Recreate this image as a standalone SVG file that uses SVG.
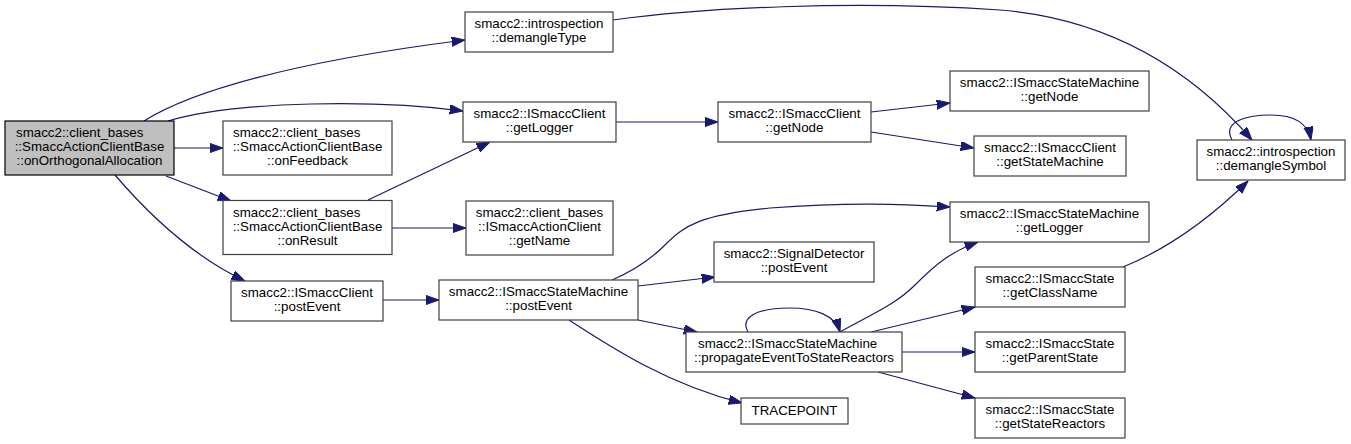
<svg xmlns="http://www.w3.org/2000/svg" width="1351" height="444" viewBox="0 0 1351 444">
<style>
.n rect{fill:#ffffff;stroke:#404040;stroke-width:1.2}
.n.main rect{fill:#bfbfbf;stroke:#000000}
.n text{font-family:"Liberation Sans",Arial,Helvetica,sans-serif;font-size:13.33px;fill:#000000;text-anchor:middle}
.n text.l{text-anchor:start}
.e path{fill:none;stroke:#191970;stroke-width:1.2;marker-end:url(#ah)}
</style>
<defs>
<marker id="ah" markerWidth="14" markerHeight="10" refX="13.3" refY="4.65" orient="auto" markerUnits="userSpaceOnUse">
<path d="M0,0 L13.3,4.65 L0,9.3 z" fill="#191970" stroke="#191970" stroke-width="1"/>
</marker>
</defs>
<rect x="0" y="0" width="1351" height="444" fill="#ffffff"/>
<g id="connectors" class="e">
<path d="M144,121 C190,92 290,62 465,40"/>
<path d="M168,121 C240,100 380,100 463,111"/>
<path d="M174,148 L223,148"/>
<path d="M166,176 L231,201"/>
<path d="M115,175 C145,210 190,255 245,281"/>
<path d="M368,200 L490,142"/>
<path d="M392,228 L466,228"/>
<path d="M383,300 L439,300"/>
<path d="M616,122 L718,122"/>
<path d="M871,112 L950,103"/>
<path d="M871,132 L974,148"/>
<path d="M613,20 C700,8 850,0 1000,10 C1120,20 1200,80 1252,140"/>
<path d="M1232,140 C1222,122 1245,115 1271,115 C1295,115 1308,124 1311,140"/>
<path d="M612,280 C640,268 655,255 665,245 C685,225 700,215 770,208 C850,202 900,204 950,207"/>
<path d="M638,286 L715,277"/>
<path d="M638,320 L697,332"/>
<path d="M569,320 C615,350 670,385 742,403"/>
<path d="M748,332 C740,318 755,308 790,308 C815,308 835,315 840,332"/>
<path d="M840,332 C870,315 895,305 915,285 C935,265 950,252 978,242"/>
<path d="M871,332 L975,307"/>
<path d="M902,352 L975,352"/>
<path d="M878,372 L975,398"/>
<path d="M1123,267 C1160,252 1200,228 1248,181"/>
</g>
<g id="node_main" class="n main">
<rect x="5" y="121" width="169" height="54"/>
<text class="l" x="16" y="137">smacc2::client_bases</text>
<text x="89.5" y="151">::SmaccActionClientBase</text>
<text x="89.5" y="165">::onOrthogonalAllocation</text>
</g>
<g id="node_demangleType" class="n">
<rect x="465" y="12" width="148" height="40"/>
<text x="539" y="28">smacc2::introspection</text>
<text x="539" y="42">::demangleType</text>
</g>
<g id="node_ic_getLogger" class="n">
<rect x="463" y="102" width="153" height="40"/>
<text x="539.5" y="118">smacc2::ISmaccClient</text>
<text x="539.5" y="132">::getLogger</text>
</g>
<g id="node_ic_getNode" class="n">
<rect x="718" y="102" width="153" height="40"/>
<text x="794.5" y="118">smacc2::ISmaccClient</text>
<text x="794.5" y="132">::getNode</text>
</g>
<g id="node_sm_getNode" class="n">
<rect x="950" y="71" width="199" height="40"/>
<text x="1049.5" y="87">smacc2::ISmaccStateMachine</text>
<text x="1049.5" y="101">::getNode</text>
</g>
<g id="node_ic_getStateMachine" class="n">
<rect x="974" y="136" width="152" height="40"/>
<text x="1050" y="152">smacc2::ISmaccClient</text>
<text x="1050" y="166">::getStateMachine</text>
</g>
<g id="node_demangleSymbol" class="n">
<rect x="1197" y="140" width="148" height="40"/>
<text x="1271" y="156">smacc2::introspection</text>
<text x="1271" y="170">::demangleSymbol</text>
</g>
<g id="node_onFeedback" class="n">
<rect x="223" y="121" width="169" height="54"/>
<text class="l" x="233" y="137">smacc2::client_bases</text>
<text x="307.5" y="151">::SmaccActionClientBase</text>
<text x="307.5" y="165">::onFeedback</text>
</g>
<g id="node_onResult" class="n">
<rect x="223" y="200.5" width="169" height="54"/>
<text class="l" x="233" y="216.5">smacc2::client_bases</text>
<text x="307.5" y="230.5">::SmaccActionClientBase</text>
<text x="307.5" y="244.5">::onResult</text>
</g>
<g id="node_getName" class="n">
<rect x="466" y="201" width="147" height="54"/>
<text x="539.5" y="217">smacc2::client_bases</text>
<text x="539.5" y="231">::ISmaccActionClient</text>
<text x="539.5" y="245">::getName</text>
</g>
<g id="node_ic_postEvent" class="n">
<rect x="231" y="281" width="152" height="40"/>
<text x="307" y="297">smacc2::ISmaccClient</text>
<text x="307" y="311">::postEvent</text>
</g>
<g id="node_sm_postEvent" class="n">
<rect x="439" y="280" width="199" height="40"/>
<text x="538.5" y="296">smacc2::ISmaccStateMachine</text>
<text x="538.5" y="310">::postEvent</text>
</g>
<g id="node_signalDetector" class="n">
<rect x="714" y="242" width="160" height="40"/>
<text x="794" y="258">smacc2::SignalDetector</text>
<text x="794" y="272">::postEvent</text>
</g>
<g id="node_propagate" class="n">
<rect x="686" y="332" width="216" height="40"/>
<text class="l" x="698" y="348">smacc2::ISmaccStateMachine</text>
<text x="794" y="362">::propagateEventToStateReactors</text>
</g>
<g id="node_tracepoint" class="n">
<rect x="741" y="398" width="107" height="26"/>
<text x="794.5" y="415">TRACEPOINT</text>
</g>
<g id="node_sm_getLogger" class="n">
<rect x="950" y="202" width="199" height="40"/>
<text x="1049.5" y="218">smacc2::ISmaccStateMachine</text>
<text x="1049.5" y="232">::getLogger</text>
</g>
<g id="node_getClassName" class="n">
<rect x="975" y="267" width="150" height="40"/>
<text x="1050" y="283">smacc2::ISmaccState</text>
<text x="1050" y="297">::getClassName</text>
</g>
<g id="node_getParentState" class="n">
<rect x="975" y="332" width="150" height="40"/>
<text x="1050" y="348">smacc2::ISmaccState</text>
<text x="1050" y="362">::getParentState</text>
</g>
<g id="node_getStateReactors" class="n">
<rect x="975" y="398" width="150" height="40"/>
<text x="1050" y="414">smacc2::ISmaccState</text>
<text x="1050" y="428">::getStateReactors</text>
</g>
</svg>
